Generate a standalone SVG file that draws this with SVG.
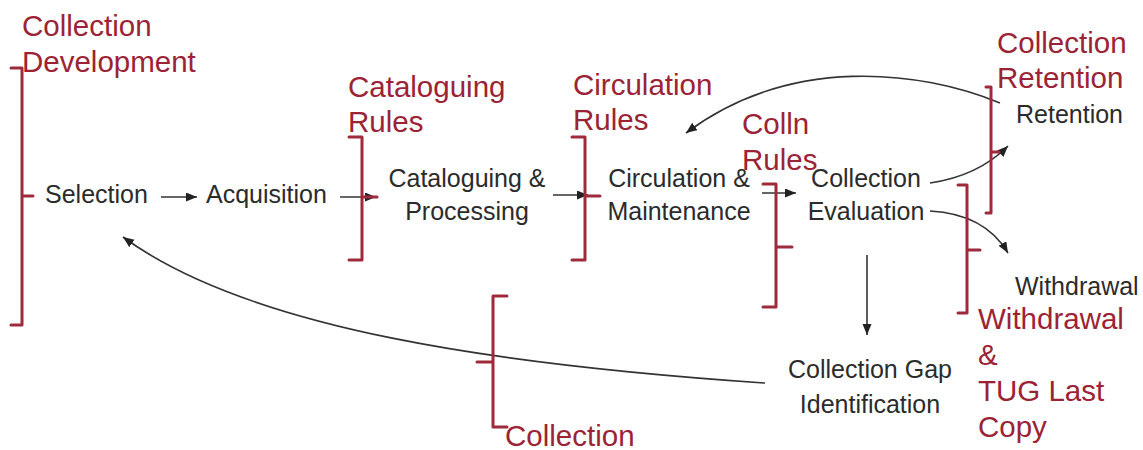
<svg xmlns="http://www.w3.org/2000/svg" width="1143" height="450" viewBox="0 0 1143 450">
<style>
.lbl{font-family:"Liberation Sans",Arial,sans-serif;font-size:25px;fill:#2b2b2b}
.red{font-family:"Liberation Sans",Arial,sans-serif;font-size:29.5px;fill:#9b2335}
.br{fill:none;stroke:#9e2a3c;stroke-width:3;stroke-linejoin:round;stroke-linecap:round}
.con{fill:none;stroke:#333;stroke-width:1.6}
</style>
<defs>
<marker id="ah" markerUnits="userSpaceOnUse" markerWidth="12" markerHeight="10" refX="11" refY="4.5" orient="auto">
<path d="M0,0 L11,4.5 L0,9 z" fill="#222"/>
</marker>
</defs>
<rect width="1143" height="450" fill="#fff"/>

<g id="connectors">
<path class="con" d="M161,197 H197" marker-end="url(#ah)"/>
<path class="con" d="M340,197 H376" marker-end="url(#ah)"/>
<path class="con" d="M553,195 H588" marker-end="url(#ah)"/>
<path class="con" d="M762,193 H796" marker-end="url(#ah)"/>
<path class="con" d="M930,183 Q978,176 1008,146" marker-end="url(#ah)"/>
<path class="con" d="M930,211 Q985,214 1008,253" marker-end="url(#ah)"/>
<path class="con" d="M1000,103 C920,70 790,55 686,133" marker-end="url(#ah)"/>
<path class="con" d="M867,255 V335" marker-end="url(#ah)"/>
<path class="con" d="M765,383 C500,365 250,330 123,237" marker-end="url(#ah)"/>
</g>

<g id="bracket-collection-development">
<path class="br" d="M11,68 H22 V325 H11 M22,196 H33"/>
<text class="red" x="22" y="36">Collection</text>
<text class="red" x="22" y="72">Development</text>
</g>
<g id="bracket-cataloguing-rules">
<path class="br" d="M349,137 H362 V260 H349 M362,197 H377"/>
<text class="red" x="348" y="97">Cataloguing</text>
<text class="red" x="348" y="132">Rules</text>
</g>
<g id="bracket-circulation-rules">
<path class="br" d="M572,137 H585 V260 H572 M585,196 H600"/>
<text class="red" x="573" y="95">Circulation</text>
<text class="red" x="573" y="130">Rules</text>
</g>
<g id="bracket-colln-rules">
<path class="br" d="M763,184 H776 V307 H763 M776,247 H792"/>
<text class="red" x="742" y="134">Colln</text>
<text class="red" x="742" y="170">Rules</text>
</g>
<g id="bracket-collection-retention">
<path class="br" d="M986,87 H991 V213 H986 M991,152 H999"/>
<text class="red" x="997" y="53">Collection</text>
<text class="red" x="997" y="88">Retention</text>
</g>
<g id="bracket-withdrawal">
<path class="br" d="M958,185 H967 V313 H958 M967,250 H980"/>
<text class="red" x="978" y="329">Withdrawal</text>
<text class="red" x="978" y="365">&amp;</text>
<text class="red" x="978" y="401">TUG Last</text>
<text class="red" x="978" y="437">Copy</text>
</g>
<g id="bracket-collection">
<path class="br" d="M507,296 H493 V427 H507 M493,362 H477"/>
<text class="red" x="505" y="446">Collection</text>
</g>

<g id="node-selection"><text class="lbl" x="45" y="203">Selection</text></g>
<g id="node-acquisition"><text class="lbl" x="206" y="203">Acquisition</text></g>
<g id="node-cataloguing">
<text class="lbl" x="467" y="187" text-anchor="middle">Cataloguing &amp;</text>
<text class="lbl" x="467" y="220" text-anchor="middle">Processing</text>
</g>
<g id="node-circulation">
<text class="lbl" x="679" y="187" text-anchor="middle">Circulation &amp;</text>
<text class="lbl" x="679" y="220" text-anchor="middle">Maintenance</text>
</g>
<g id="node-evaluation">
<text class="lbl" x="866" y="187" text-anchor="middle">Collection</text>
<text class="lbl" x="866" y="220" text-anchor="middle">Evaluation</text>
</g>
<g id="node-retention"><text class="lbl" x="1016" y="123">Retention</text></g>
<g id="node-withdrawal"><text class="lbl" x="1015" y="295">Withdrawal</text></g>
<g id="node-gap">
<text class="lbl" x="870" y="378" text-anchor="middle">Collection Gap</text>
<text class="lbl" x="870" y="413" text-anchor="middle">Identification</text>
</g>
</svg>
